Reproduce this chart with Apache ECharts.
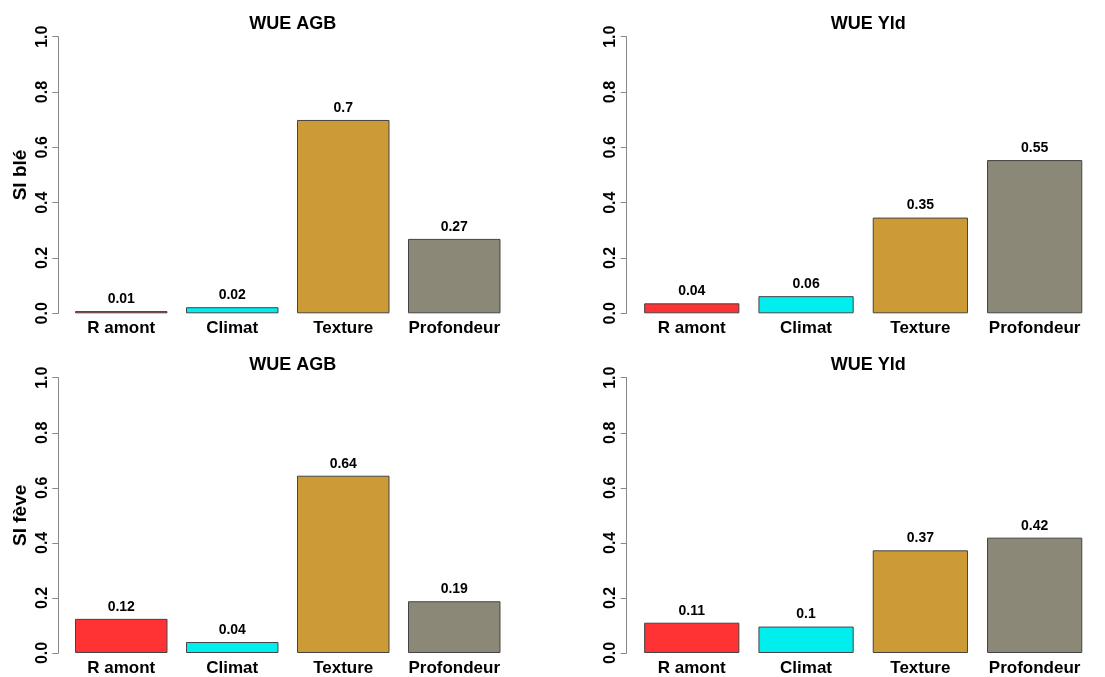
<!DOCTYPE html>
<html>
<head>
<meta charset="utf-8">
<script src="https://cdn.jsdelivr.net/npm/echarts@6/dist/echarts.min.js"></script>
<style>html,body{margin:0;padding:0;background:#fff}#c{width:1105px;height:677px}</style>
</head>
<body>
<div id="c"></div>
<script>
var categories = ['R amont', 'Climat', 'Texture', 'Profondeur'];
var barColors = ['#FF3333', '#00EEEE', '#CD9B35', '#8B8878'];
var yTicks = [0, 0.2, 0.4, 0.6, 0.8, 1.0];
var panelTitles = ['WUE AGB', 'WUE Yld', 'WUE AGB', 'WUE Yld'];
var rowNames = ['SI blé', 'SI fève'];
var wueAgbBle = [0.008, 0.022, 0.699, 0.269];
var wueYldBle = [0.036, 0.062, 0.346, 0.554];
var wueAgbFeve = [0.124, 0.040, 0.644, 0.188];
var wueYldFeve = [0.110, 0.096, 0.373, 0.419];

var FONT = '"Liberation Sans", Arial, sans-serif';
var panels = [
  {data: wueAgbBle, left: 65.75, width: 444, top: 36.7, axisX: 58.3, name: rowNames[0]},
  {data: wueYldBle, left: 634.6, width: 457.2, top: 36.7, axisX: 626.7, name: ''},
  {data: wueAgbFeve, left: 65.75, width: 444, top: 377.7, axisX: 58.3, name: rowNames[1]},
  {data: wueYldFeve, left: 634.6, width: 457.2, top: 377.7, axisX: 626.7, name: ''}
];
var H = 276.6;

var option = {
  animation: false,
  title: [], grid: [], xAxis: [], yAxis: [], series: []
};
panels.forEach(function (p, i) {
  option.title.push({
    text: panelTitles[i], left: p.left + p.width / 2, top: p.top - 27, textAlign: 'center',
    textStyle: {fontFamily: FONT, fontWeight: 'bold', fontSize: 18, color: '#000'}
  });
  option.grid.push({left: p.left, top: p.top, width: p.width, height: H, containLabel: false});
  option.xAxis.push({
    type: 'category', gridIndex: i, data: categories,
    axisLine: {show: false}, axisTick: {show: false}, splitLine: {show: false},
    axisLabel: {margin: 7, interval: 0, color: '#000', fontFamily: FONT, fontWeight: 'bold', fontSize: 17}
  });
  option.yAxis.push({
    type: 'value', gridIndex: i, min: 0, max: 1, interval: 0.2,
    offset: p.left - p.axisX,
    name: p.name, nameLocation: 'middle', nameGap: p.axisX - 30, nameRotate: 90,
    nameTextStyle: {fontFamily: FONT, fontWeight: 'bold', fontSize: 19, color: '#000'},
    axisLine: {show: true, lineStyle: {color: '#888', width: 1}},
    axisTick: {show: true, length: 6, lineStyle: {color: '#888'}},
    splitLine: {show: false},
    axisLabel: {rotate: 90, margin: 8, color: '#000', fontFamily: FONT, fontWeight: 'bold', fontSize: 16,
      formatter: function (v) { return v.toFixed(1); }}
  });
  option.series.push({
    type: 'bar', xAxisIndex: i, yAxisIndex: i, barWidth: '83.33%',
    data: p.data.map(function (v, k) {
      return {value: v, itemStyle: {color: barColors[k]}};
    }),
    itemStyle: {borderColor: '#444', borderWidth: 1},
    label: {show: true, position: 'top', distance: 5, color: '#000', fontFamily: FONT, fontWeight: 'bold', fontSize: 14,
      formatter: function (d) { return String(parseFloat(d.value.toFixed(2))); }}
  });
});
echarts.init(document.getElementById('c')).setOption(option);
</script>
</body>
</html>
